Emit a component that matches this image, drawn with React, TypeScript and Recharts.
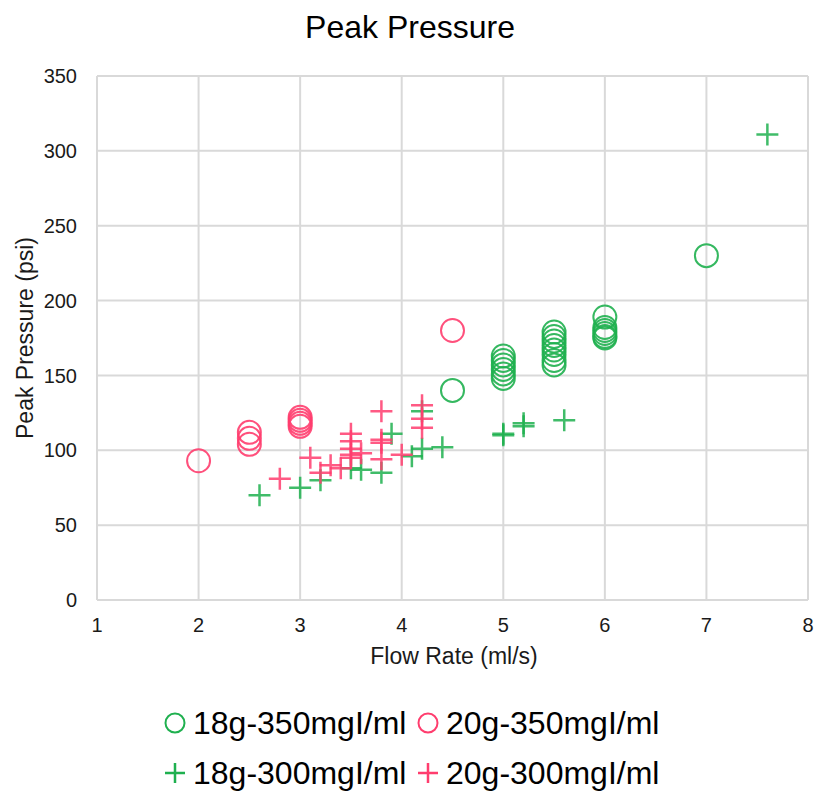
import React from "react";
import {
  CartesianGrid,
  Scatter,
  ScatterChart,
  XAxis,
  YAxis,
} from "recharts";

const GREEN = "#1fb04f";
const PINK = "#ff3d6e";
const GRID = "#d9d9d9";
const FONT = '"Liberation Sans", Arial, sans-serif';

// flow rate (ml/s) / peak pressure (psi)
const g350X = [4.5, 5, 5, 5, 5, 5, 5, 5.5, 5.5, 5.5, 5.5, 5.5, 5.5, 5.5, 5.5, 6, 6, 6, 6, 6, 6, 7];
const g350Y = [140, 163, 160, 157, 154, 151, 148, 179, 176, 173, 170, 167, 164, 160, 157, 189, 182, 180, 178, 176, 175, 230];

const p350X = [2, 2.5, 2.5, 2.5, 3, 3, 3, 3, 4.5];
const p350Y = [93, 112, 108, 104, 122, 120, 118, 116, 180];

const g300X = [2.6, 3.0, 3.2, 3.5, 3.6, 3.8, 3.9, 4.1, 4.2, 4.2, 4.4, 5.0, 5.0, 5.2, 5.2, 5.6, 7.6];
const g300Y = [70, 75, 80, 88, 87, 85, 111, 96, 101, 126, 102, 110, 111, 118, 116, 120, 311];

const p300X = [2.8, 3.1, 3.2, 3.3, 3.4, 3.5, 3.5, 3.5, 3.5, 3.5, 3.6, 3.8, 3.8, 3.8, 3.8, 4.0, 4.2, 4.2, 4.2];
const p300Y = [81, 95, 85, 90, 88, 111, 106, 101, 97, 95, 98, 126, 107, 105, 94, 97, 130, 121, 115];

const xTicks = [1, 2, 3, 4, 5, 6, 7, 8];
const yTicks = [0, 50, 100, 150, 200, 250, 300, 350];

const zip = (xs: number[], ys: number[]) => xs.map((x, i) => ({ x, y: ys[i] }));

const ring = (color: string) => (props: any) => (
  <circle cx={props.cx} cy={props.cy} r={11.5} fill="none" stroke={color} strokeWidth={2} strokeOpacity={0.9} />
);

const plus = (color: string) => (props: any) => {
  const { cx, cy } = props;
  return (
    <path
      d={`M${cx - 11},${cy}H${cx + 11}M${cx},${cy - 11}V${cy + 11}`}
      stroke={color}
      strokeWidth={2.5}
      strokeOpacity={0.85}
      fill="none"
    />
  );
};

const legendItems = [
  { label: "18g-350mgI/ml", color: GREEN, kind: "ring" },
  { label: "20g-350mgI/ml", color: PINK, kind: "ring" },
  { label: "18g-300mgI/ml", color: GREEN, kind: "plus" },
  { label: "20g-300mgI/ml", color: PINK, kind: "plus" },
];

function LegendIcon({ color, kind }: { color: string; kind: string }) {
  return (
    <svg width={22} height={22} style={{ marginRight: 7, flex: "none" }}>
      {kind === "ring" ? (
        <circle cx={11} cy={11} r={9.5} fill="none" stroke={color} strokeWidth={2} />
      ) : (
        <path d="M1,11H21M11,1V21" stroke={color} strokeWidth={2.5} />
      )}
    </svg>
  );
}

export default function App() {
  return (
    <div style={{ position: "absolute", left: 0, top: 0, width: 815, height: 793, fontFamily: FONT, background: "#fff" }}>
      <div
        style={{
          position: "absolute",
          top: 11,
          left: 0,
          width: 820,
          textAlign: "center",
          fontSize: 32,
          lineHeight: "32px",
          color: "#000",
        }}
      >
        Peak Pressure
      </div>
      <ScatterChart width={815} height={793} margin={{ top: 76, right: 7, left: 37, bottom: 113 }}>
        <CartesianGrid stroke={GRID} strokeWidth={2} horizontalValues={yTicks} verticalValues={xTicks} />
        <XAxis
          type="number"
          dataKey="x"
          domain={[1, 8]}
          ticks={xTicks}
          interval={0}
          tickLine={false}
          axisLine={{ stroke: GRID, strokeWidth: 2 }}
          tickMargin={12}
          height={80}
          tick={{ fontSize: 20, fill: "#1a1a1a", fontFamily: FONT }}
          label={{
            content: () => (
              <text x={454} y={664} textAnchor="middle" fontSize={23} fill="#1a1a1a" fontFamily={FONT}>
                Flow Rate (ml/s)
              </text>
            ),
          }}
        />
        <YAxis
          type="number"
          dataKey="y"
          domain={[0, 350]}
          ticks={yTicks}
          interval={0}
          tickLine={false}
          axisLine={{ stroke: GRID, strokeWidth: 2 }}
          tickMargin={14}
          width={60}
          tick={{ fontSize: 20, fill: "#1a1a1a", fontFamily: FONT }}
          label={{
            content: () => (
              <text
                x={33}
                y={338}
                textAnchor="middle"
                fontSize={23}
                fill="#1a1a1a"
                fontFamily={FONT}
                transform="rotate(-90 33 338)"
              >
                Peak Pressure (psi)
              </text>
            ),
          }}
        />
        <Scatter name="18g-350mgI/ml" data={zip(g350X, g350Y)} shape={ring(GREEN)} isAnimationActive={false} />
        <Scatter name="20g-350mgI/ml" data={zip(p350X, p350Y)} shape={ring(PINK)} isAnimationActive={false} />
        <Scatter name="18g-300mgI/ml" data={zip(g300X, g300Y)} shape={plus(GREEN)} isAnimationActive={false} />
        <Scatter name="20g-300mgI/ml" data={zip(p300X, p300Y)} shape={plus(PINK)} isAnimationActive={false} />
      </ScatterChart>
      <div
        style={{
          position: "absolute",
          top: 698,
          left: 164,
          width: 520,
          display: "flex",
          flexWrap: "wrap",
          fontSize: 32,
          lineHeight: "50px",
          color: "#000",
        }}
      >
        {legendItems.map((it) => (
          <div key={it.label} style={{ width: 253, display: "flex", alignItems: "center", whiteSpace: "nowrap" }}>
            <LegendIcon color={it.color} kind={it.kind} />
            <span>{it.label}</span>
          </div>
        ))}
      </div>
    </div>
  );
}
